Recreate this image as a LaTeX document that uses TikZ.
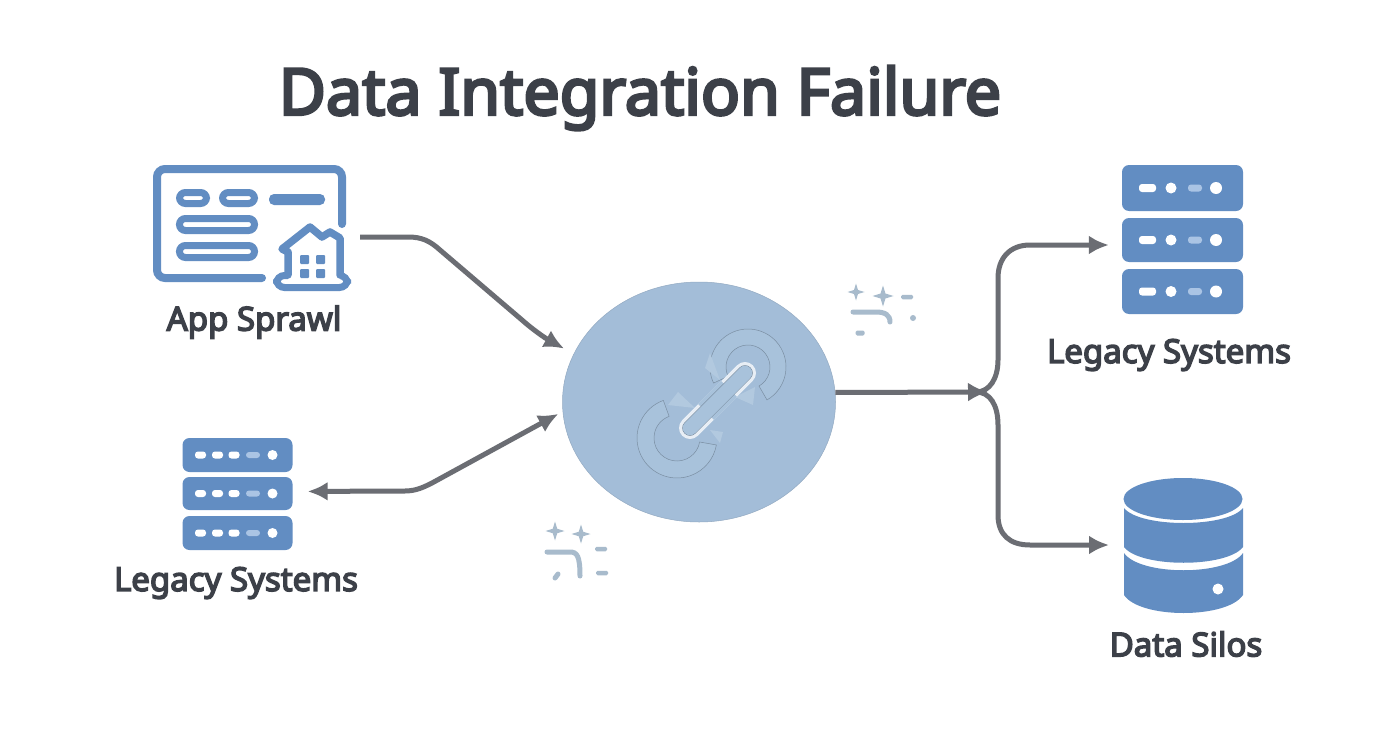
\documentclass[tikz,border=0pt]{standalone}
\usepackage{fontspec}
\setsansfont{Noto Sans}[BoldFont={Noto Sans},BoldFeatures={FakeBold=4.5}]
\usepackage{xcolor}
\usetikzlibrary{arrows.meta, positioning, calc, shapes.geometric}
\definecolor{dsBlue}{RGB}{98,141,194}
\definecolor{dsDim}{RGB}{170,196,228}
\definecolor{dsHub}{RGB}{163,189,216}
\definecolor{dsRing}{RGB}{168,194,219}
\definecolor{dsGrey}{RGB}{107,109,115}
\definecolor{dsInk}{RGB}{60,64,72}
\definecolor{dsSpark}{RGB}{168,187,204}

\begin{document}
\begin{tikzpicture}[x=1pt,y=-1pt,font=\sffamily\bfseries,
  L/.style={text=dsInk,inner sep=0pt,font=\sffamily\bfseries\fontsize{33}{38}\selectfont},
  row/.style={fill=dsBlue,rounded corners=7pt,inner sep=0pt},
  led/.style={fill=white,rounded corners=3pt,inner sep=0pt},
  dotled/.style={circle,fill=white,inner sep=0pt},
  pill/.style={draw=dsBlue,line width=7pt,fill=white,rounded corners=6pt,inner sep=0pt},
  win/.style={fill=dsBlue,inner sep=0pt,minimum size=9pt,rounded corners=1pt},
  spark/.style={star,star points=4,star point ratio=3,fill=dsSpark,inner sep=0pt},
  dashmark/.style={fill=dsSpark,rounded corners=1.5pt,inner sep=0pt},
  flow/.style={draw=dsGrey,line width=5pt},
  tip/.style={-{Latex[length=20pt,width=19pt]}},
  ring/.style={draw=dsHub!75!black,line width=.5pt,fill=dsRing}]

\useasboundingbox (0,0) rectangle (1392,752);
\fill[white] (0,0) rectangle (1392,752);

\node[inner sep=0pt,text=dsInk,font=\sffamily\bfseries\fontsize{64.5}{70}\selectfont]
   (title) at (640,98) {Data Integration Failure};

% hub with the broken link
\node[ellipse,fill=dsHub,draw=dsHub!90!black,line width=.5pt,minimum width=273pt,minimum height=240pt,inner sep=0pt]
   (hub) at (699,402) {};
\foreach \cx/\cy/\ra/\rb/\sa/\sb in {677/438/40/23/110/350, 748/367/38/22/-60/205}
  \draw[ring] ([shift={(\sa:\ra pt)}]\cx,\cy) arc[start angle=\sa,end angle=\sb,radius=\ra pt]
     -- ([shift={(\sb:\rb pt)}]\cx,\cy) arc[start angle=\sb,end angle=\sa,radius=\rb pt] -- cycle;
\fill[dsRing!88!white] (678,392) -- (668,405) -- (695,408) -- cycle;
\fill[dsRing!88!white] (755,387) -- (735,397) -- (753,405) -- cycle;
\fill[dsRing!88!white] (710,430) -- (723,432) -- (720,443) -- cycle;
\fill[dsRing!88!white] (710,353) -- (705,368) -- (720,380) -- cycle;
\draw[line width=22pt,line cap=round,white!75!dsHub] (690,428) -- (745,373);
\draw[line width=22pt,dsRing] (706,412) -- (729,389);
\draw[line width=15.5pt,line cap=round,dsHub!70!black] (690,428) -- (745,373);
\draw[line width=14.5pt,line cap=round,dsRing] (690,428) -- (745,373);

% app window
\draw[dsBlue,line width=8pt,line cap=round,rounded corners=8pt]
   (342,224) -- (342,169) -- (157,169) -- (157,278) -- (262,278);
\node[pill,minimum width=27pt,minimum height=11pt] (p1) at (193,198) {};
\node[pill,minimum width=32pt,minimum height=11pt] (p2) at (238.5,198) {};
\node[fill=dsBlue,rounded corners=5pt,inner sep=0pt,minimum width=56pt,minimum height=11pt] (p3) at (297,199.5) {};
\node[pill,minimum width=75pt,minimum height=12pt] (p4) at (217,224.5) {};
\node[pill,minimum width=75pt,minimum height=12pt] (p5) at (217,251.5) {};

% house
\node[pill,rounded corners=8pt,minimum width=71pt,minimum height=12pt] (base) at (312,281.5) {};
\fill[white] (288,249) -- (310,227) -- (322,237) -- (330,232) -- (340,238) -- (340,282) -- (288,282) -- cycle;
\draw[dsBlue,line width=7.5pt,line join=round,line cap=round]
   (288,275) -- (288,252) -- (282,249) -- (310,227) -- (322,237) -- (330,232) -- (340,238) -- (340,275);
\foreach \wx/\wy [count=\i] in {304.5/259.5, 320.5/259.5, 304.5/273.5, 320.5/273.5}
  \node[win] (w\i) at (\wx,\wy) {};

\node[L] (appLab) at (254,322) {App Sprawl};

% server stacks
\foreach \n/\cy/\h in {r1/188/46, r2/240/44, r3/291.5/45} {
  \node[row,minimum width=121pt,minimum height=\h pt] (\n) at (1182.5,\cy) {};
  \node[led,minimum width=17pt,minimum height=8pt] (\n a) at ($(\n)+(-35,0)$) {};
  \node[dotled,minimum size=11pt] (\n b) at ($(\n)+(-11.5,0)$) {};
  \node[led,fill=dsDim,minimum width=14pt,minimum height=7pt] (\n c) at ($(\n)+(12.5,0)$) {};
  \node[dotled,minimum size=12pt] (\n d) at ($(\n)+(33.5,0)$) {};
}
\foreach \n/\cy/\h in {l1/455/34, l2/493.5/33, l3/533/34} {
  \node[row,minimum width=110pt,minimum height=\h pt] (\n) at (237.5,\cy) {};
  \foreach \k/\dx in {a/-37, b/-20, c/-3.5}
    \node[led,minimum width=11pt,minimum height=7pt] (\n\k) at ($(\n)+(\dx,0)$) {};
  \node[led,fill=dsDim,minimum width=14pt,minimum height=6pt] (\n e) at ($(\n)+(15.5,0)$) {};
  \node[dotled,minimum size=10pt] (\n f) at ($(\n)+(35,0)$) {};
}
\node[L] (legR) at (1169,355) {Legacy Systems};
\node[L] (legL) at (236,583) {Legacy Systems};

% silo
\fill[dsBlue] (1183,499) ellipse[x radius=59.5,y radius=21];
\fill[dsBlue] (1124,508) .. controls (1140,528) and (1227,528) .. (1243,508) -- (1243,547)
   .. controls (1227,568) and (1140,568) .. (1124,547) -- cycle;
\fill[dsBlue] (1124,553) .. controls (1140,576) and (1227,576) .. (1243,553) -- (1243,595)
   .. controls (1227,619) and (1140,619) .. (1124,595) -- cycle;
\node[dotled,minimum size=11pt] (siloLed) at (1218,589) {};
\node[L] (siloLab) at (1186,644) {Data Silos};

% connectors
\coordinate (appOut) at (360,237);
\coordinate (split) at (988,392);
\coordinate (siloIn) at (1124,545);
\draw[flow,tip,shorten >=11pt] (appOut) -- (408,237) .. controls (422,237) and (430,241) .. (440,250)
   -- (522,320) .. controls (532,329) and (545,338) .. (hub.159);
\draw[flow,{Latex[length=20pt,width=19pt]}-{Latex[length=20pt,width=19pt]},shorten >=5pt,shorten <=15pt]
   ([yshift=2pt]l2.east) -- (405,491) .. controls (416,491) and (424,487) .. (432,483) -- (hub.184);
\draw[flow,tip] (hub.4) -- (split);
\draw[flow,tip,shorten >=13pt] ([xshift=-12pt]split) .. controls (990,392) and (998,378) .. (998,360)
   -- (998,278) .. controls (998,258) and (1010,245) .. (1030,245) -- ([yshift=-5pt]r2.west);
\draw[flow,tip,shorten >=15pt] ([xshift=-12pt]split) .. controls (990,392) and (998,405) .. (998,425)
   -- (998,515) .. controls (998,535) and (1010,545) .. (1030,545) -- (siloIn);

% sparkles
\foreach \sx/\sy/\sz [count=\i] in {856/292/17, 883/296/21, 555/531/19, 581/534/19}
  \node[spark,minimum size=\sz pt] (s\i) at (\sx,\sy) {};
\foreach \sx/\sy/\sw/\sh [count=\i] in {907/297/12/4.5, 860/333/9/5, 601/549/12/4.5, 602/573/12/4.5}
  \node[dashmark,minimum width=\sw pt,minimum height=\sh pt] (d\i) at (\sx,\sy) {};
\node[circle,fill=dsSpark,inner sep=0pt,minimum size=6pt] (dot1) at (913,318) {};
\draw[dsSpark,line width=5pt,line cap=round] (853,312) -- (876,312) .. controls (885,312) and (890,315) .. (890,322);
\draw[dsSpark,line width=5pt,line cap=round] (547,552) -- (570,552) .. controls (577,552) and (580,556) .. (580,576);
\draw[dsSpark,line width=5pt,line cap=round] (555,578) -- (558,574);
\end{tikzpicture}
\end{document}
